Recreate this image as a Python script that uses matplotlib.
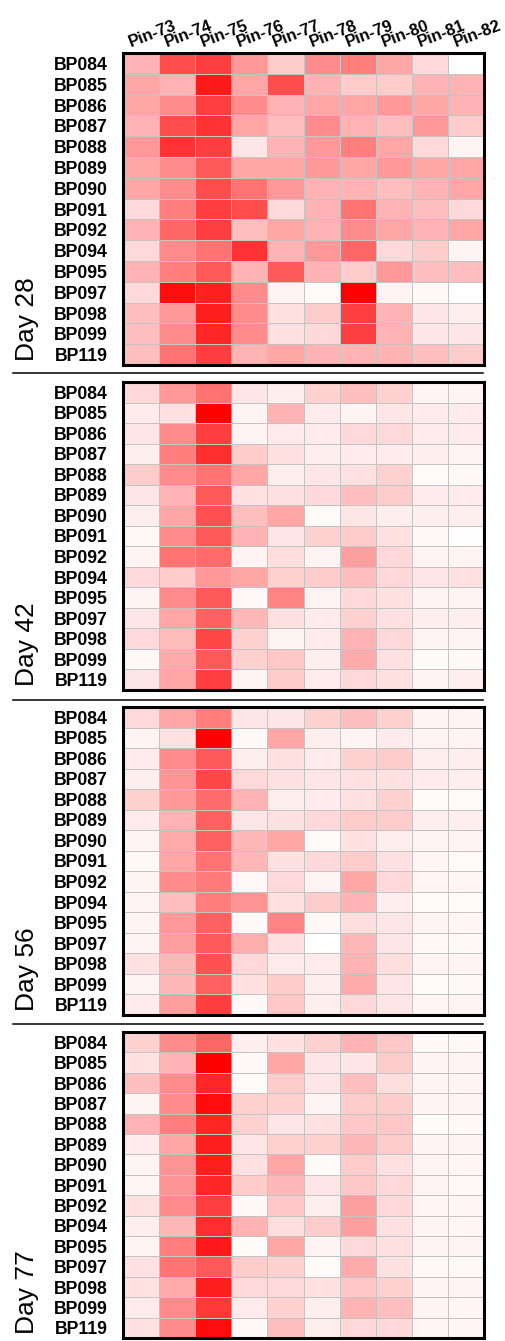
import numpy as np
import matplotlib
matplotlib.use("Agg")
import matplotlib.pyplot as plt
from matplotlib.colors import LinearSegmentedColormap
from matplotlib.lines import Line2D

plt.rcParams['font.family'] = ['Liberation Sans', 'DejaVu Sans']

# row / column labels
samples = ["BP084", "BP085", "BP086", "BP087", "BP088", "BP089", "BP090", "BP091",
           "BP092", "BP094", "BP095", "BP097", "BP098", "BP099", "BP119"]
pins = ["Pin-73", "Pin-74", "Pin-75", "Pin-76", "Pin-77",
        "Pin-78", "Pin-79", "Pin-80", "Pin-81", "Pin-82"]
days = ["Day 28", "Day 42", "Day 56", "Day 77"]

# relative response (0 = white, 1 = full red)
day28 = [
    [0.30, 0.70, 0.75, 0.40, 0.20, 0.45, 0.50, 0.35, 0.15, 0.00],
    [0.35, 0.30, 0.90, 0.35, 0.70, 0.30, 0.20, 0.20, 0.30, 0.30],
    [0.35, 0.45, 0.75, 0.45, 0.30, 0.35, 0.35, 0.40, 0.35, 0.30],
    [0.30, 0.70, 0.80, 0.35, 0.25, 0.45, 0.30, 0.25, 0.40, 0.20],
    [0.40, 0.80, 0.75, 0.10, 0.30, 0.40, 0.50, 0.35, 0.15, 0.05],
    [0.35, 0.45, 0.65, 0.35, 0.35, 0.40, 0.35, 0.40, 0.35, 0.35],
    [0.35, 0.45, 0.70, 0.55, 0.40, 0.30, 0.30, 0.25, 0.30, 0.35],
    [0.15, 0.50, 0.75, 0.70, 0.15, 0.30, 0.55, 0.30, 0.25, 0.15],
    [0.30, 0.60, 0.75, 0.25, 0.35, 0.30, 0.45, 0.35, 0.30, 0.35],
    [0.15, 0.45, 0.55, 0.80, 0.30, 0.40, 0.60, 0.15, 0.20, 0.05],
    [0.30, 0.50, 0.65, 0.30, 0.65, 0.30, 0.20, 0.40, 0.25, 0.25],
    [0.15, 0.95, 0.87, 0.45, 0.05, 0.02, 1.00, 0.05, 0.03, 0.00],
    [0.25, 0.40, 0.88, 0.45, 0.12, 0.20, 0.75, 0.30, 0.10, 0.07],
    [0.25, 0.45, 0.85, 0.45, 0.12, 0.15, 0.75, 0.30, 0.10, 0.10],
    [0.25, 0.55, 0.75, 0.30, 0.35, 0.30, 0.30, 0.30, 0.25, 0.20],
]
day42 = [
    [0.15, 0.40, 0.55, 0.10, 0.07, 0.18, 0.25, 0.18, 0.05, 0.05],
    [0.08, 0.12, 1.00, 0.05, 0.30, 0.08, 0.05, 0.10, 0.08, 0.08],
    [0.10, 0.45, 0.75, 0.05, 0.08, 0.08, 0.15, 0.15, 0.08, 0.08],
    [0.07, 0.50, 0.82, 0.20, 0.12, 0.07, 0.08, 0.08, 0.07, 0.05],
    [0.20, 0.45, 0.55, 0.35, 0.07, 0.10, 0.12, 0.18, 0.02, 0.03],
    [0.10, 0.30, 0.65, 0.12, 0.12, 0.15, 0.25, 0.20, 0.08, 0.08],
    [0.07, 0.35, 0.68, 0.25, 0.35, 0.02, 0.10, 0.07, 0.07, 0.07],
    [0.03, 0.45, 0.65, 0.30, 0.10, 0.18, 0.20, 0.12, 0.03, 0.01],
    [0.05, 0.55, 0.58, 0.05, 0.13, 0.05, 0.38, 0.15, 0.05, 0.05],
    [0.15, 0.20, 0.40, 0.35, 0.18, 0.20, 0.25, 0.15, 0.10, 0.12],
    [0.05, 0.45, 0.65, 0.03, 0.48, 0.05, 0.15, 0.12, 0.05, 0.05],
    [0.10, 0.35, 0.62, 0.28, 0.12, 0.08, 0.18, 0.12, 0.07, 0.07],
    [0.15, 0.27, 0.72, 0.18, 0.05, 0.08, 0.30, 0.15, 0.05, 0.05],
    [0.03, 0.33, 0.65, 0.18, 0.22, 0.07, 0.33, 0.12, 0.02, 0.03],
    [0.10, 0.35, 0.75, 0.05, 0.20, 0.08, 0.15, 0.12, 0.05, 0.07],
]
day56 = [
    [0.15, 0.35, 0.50, 0.10, 0.10, 0.18, 0.25, 0.18, 0.05, 0.05],
    [0.05, 0.12, 1.00, 0.03, 0.35, 0.07, 0.05, 0.08, 0.05, 0.05],
    [0.08, 0.45, 0.65, 0.07, 0.12, 0.08, 0.18, 0.20, 0.07, 0.07],
    [0.07, 0.42, 0.72, 0.15, 0.12, 0.10, 0.12, 0.12, 0.08, 0.07],
    [0.18, 0.40, 0.58, 0.30, 0.07, 0.08, 0.12, 0.18, 0.02, 0.02],
    [0.08, 0.30, 0.62, 0.10, 0.12, 0.15, 0.20, 0.20, 0.07, 0.07],
    [0.05, 0.33, 0.62, 0.28, 0.35, 0.02, 0.12, 0.07, 0.05, 0.05],
    [0.03, 0.35, 0.55, 0.28, 0.12, 0.15, 0.20, 0.12, 0.04, 0.02],
    [0.05, 0.45, 0.52, 0.03, 0.15, 0.05, 0.35, 0.15, 0.04, 0.04],
    [0.05, 0.25, 0.50, 0.42, 0.12, 0.20, 0.30, 0.07, 0.02, 0.02],
    [0.05, 0.40, 0.62, 0.03, 0.48, 0.03, 0.13, 0.10, 0.05, 0.04],
    [0.05, 0.38, 0.65, 0.32, 0.12, 0.00, 0.28, 0.10, 0.03, 0.03],
    [0.12, 0.28, 0.68, 0.15, 0.08, 0.08, 0.30, 0.13, 0.05, 0.05],
    [0.05, 0.28, 0.62, 0.12, 0.20, 0.07, 0.33, 0.10, 0.02, 0.03],
    [0.08, 0.38, 0.75, 0.03, 0.22, 0.07, 0.15, 0.10, 0.04, 0.05],
]
day77 = [
    [0.18, 0.45, 0.60, 0.07, 0.12, 0.18, 0.30, 0.22, 0.03, 0.03],
    [0.12, 0.30, 1.00, 0.03, 0.35, 0.10, 0.10, 0.20, 0.05, 0.05],
    [0.25, 0.45, 0.85, 0.02, 0.20, 0.10, 0.25, 0.13, 0.05, 0.05],
    [0.05, 0.45, 0.95, 0.18, 0.18, 0.05, 0.20, 0.20, 0.05, 0.05],
    [0.30, 0.50, 0.85, 0.18, 0.10, 0.12, 0.22, 0.22, 0.02, 0.03],
    [0.08, 0.35, 0.88, 0.10, 0.18, 0.18, 0.28, 0.20, 0.05, 0.05],
    [0.05, 0.42, 0.88, 0.12, 0.35, 0.02, 0.20, 0.12, 0.05, 0.04],
    [0.04, 0.42, 0.85, 0.20, 0.28, 0.10, 0.22, 0.15, 0.05, 0.03],
    [0.12, 0.45, 0.75, 0.03, 0.22, 0.07, 0.38, 0.15, 0.04, 0.04],
    [0.07, 0.28, 0.82, 0.30, 0.13, 0.20, 0.38, 0.12, 0.05, 0.04],
    [0.05, 0.50, 0.90, 0.02, 0.35, 0.05, 0.15, 0.12, 0.05, 0.05],
    [0.12, 0.55, 0.65, 0.20, 0.18, 0.02, 0.33, 0.12, 0.03, 0.03],
    [0.12, 0.33, 0.88, 0.15, 0.15, 0.12, 0.22, 0.18, 0.05, 0.05],
    [0.08, 0.45, 0.78, 0.08, 0.18, 0.07, 0.30, 0.25, 0.05, 0.04],
    [0.12, 0.45, 0.95, 0.03, 0.25, 0.07, 0.15, 0.15, 0.04, 0.04],
]

panels = [day28, day42, day56, day77]

W, H = 505, 1341
fig = plt.figure(figsize=(W / 100, H / 100), dpi=100)
cmap = LinearSegmentedColormap.from_list("wr", ["#ffffff", "#ff0000"])

# panel extents in pixels (top, bottom)
boxes = [(53, 365), (382, 690), (707, 1015), (1032, 1338)]
seps = [373, 700, 1024]
x0, x1 = 123, 484

for k, (data, day) in enumerate(zip(panels, days)):
    top, bot = boxes[k]
    ax = fig.add_axes([x0 / W, 1 - bot / H, (x1 - x0) / W, (bot - top) / H])
    arr = np.array(data)
    ax.pcolormesh(arr, cmap=cmap, vmin=0, vmax=1,
                  edgecolors="#c4c4c4", linewidth=0.5)
    ax.set_xlim(0, len(pins))
    ax.set_ylim(len(samples), 0)
    ax.set_yticks(np.arange(len(samples)) + 0.5)
    ax.set_yticklabels(samples, fontsize=12.7, fontweight="bold")
    ax.tick_params(axis="y", length=0, pad=11)
    ax.set_xticks([])
    for s in ax.spines.values():
        s.set_linewidth(2.2)
        s.set_color("black")

    if k == 0:
        trans = ax.get_xaxis_transform()
        for j, p in enumerate(pins):
            ax.text(j + 0.22, 1.02, p, transform=trans, rotation=21,
                    rotation_mode="anchor", ha="left", va="baseline",
                    fontsize=12, fontweight="bold")

    fig.text(27 / W, 1 - (bot - 4) / H, day, rotation=90, ha="center",
             va="bottom", fontsize=19)

for y in seps:
    fig.add_artist(Line2D([13 / W, 483 / W], [1 - y / H, 1 - y / H],
                          color="black", linewidth=1.1))

fig.savefig("out.png", dpi=100)
